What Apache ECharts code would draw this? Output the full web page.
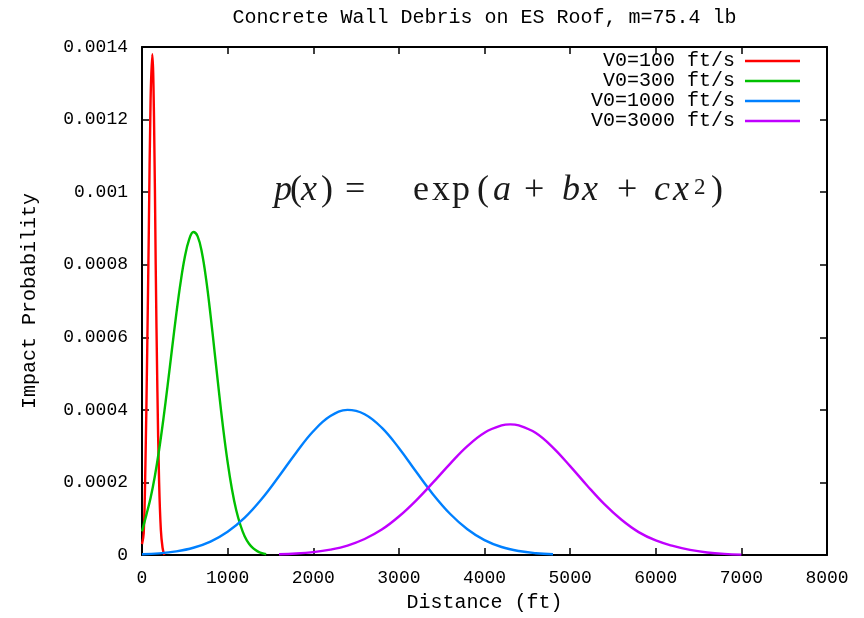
<!DOCTYPE html>
<html>
<head>
<meta charset="utf-8">
<script src="https://cdn.jsdelivr.net/npm/echarts@6/dist/echarts.min.js"></script>
<style>
html,body{margin:0;padding:0;background:#fff;}
#chart{width:864px;height:618px;}
</style>
</head>
<body>
<div id="chart"></div>
<script>
// ---- data ----
const seriesNames = ['V0=100 ft/s', 'V0=300 ft/s', 'V0=1000 ft/s', 'V0=3000 ft/s'];
const seriesColors = ['#ff0000', '#00c000', '#0080ff', '#c000ff'];

const redX = [0, 20, 40, 60, 80, 100, 120, 140, 160, 180, 200, 220, 240, 260];
const redY = [0.00003, 0.00006, 0.00025, 0.00055, 0.0009, 0.00125, 0.00138, 0.00121, 0.0008, 0.00045, 0.0002, 0.00007, 0.00002, 0];

const greenX = [0, 50, 100, 150, 200, 250, 300, 350, 400, 450, 500, 550, 600, 650, 700, 750, 800, 850, 900, 950, 1000, 1050, 1100, 1150, 1200, 1250, 1300, 1350, 1400, 1450];
const greenY = [0.000065, 0.00011, 0.000157, 0.000217, 0.00029, 0.000375, 0.000469, 0.000567, 0.000663, 0.00075, 0.000821, 0.000869, 0.00089, 0.000878, 0.000833, 0.000758, 0.000662, 0.000555, 0.000447, 0.000345, 0.000256, 0.000182, 0.000124, 0.000082, 0.000051, 0.000031, 0.000018, 0.00001, 0.000005, 0.000002];

const blueX = [0, 200, 400, 600, 800, 1000, 1200, 1400, 1600, 1800, 2000, 2200, 2400, 2600, 2800, 3000, 3200, 3400, 3600, 3800, 4000, 4200, 4400, 4600, 4800];
const blueY = [0.000002, 0.0000045, 0.00001, 0.00002, 0.000037, 0.000064, 0.000103, 0.000155, 0.000217, 0.000282, 0.000341, 0.000383, 0.0004, 0.000388, 0.000351, 0.000295, 0.00023, 0.000167, 0.000113, 0.000071, 0.000041, 0.000022, 0.000011, 0.000005, 0.000002];

const purpleX = [1600, 1800, 2000, 2200, 2400, 2600, 2800, 3000, 3200, 3400, 3600, 3800, 4000, 4200, 4300, 4400, 4600, 4800, 5000, 5200, 5400, 5600, 5800, 6000, 6200, 6400, 6600, 6800, 7000];
const purpleY = [0.000002, 0.000004, 0.000008, 0.000015, 0.000026, 0.000044, 0.00007, 0.000106, 0.00015, 0.0002, 0.000252, 0.0003, 0.000337, 0.000357, 0.00036, 0.000357, 0.000336, 0.000296, 0.000245, 0.000191, 0.00014, 0.000097, 0.000063, 0.00004, 0.000025, 0.000014, 0.000007, 0.000003, 0.000001];

const xTickLabels = ['0', '1000', '2000', '3000', '4000', '5000', '6000', '7000', '8000'];
const yTickLabels = ['0', '0.0002', '0.0004', '0.0006', '0.0008', '0.001', '0.0012', '0.0014'];

const titleText = 'Concrete Wall Debris on ES Roof, m=75.4 lb';
const xName = 'Distance (ft)';
const yName = 'Impact Probability';

// ---- build ----
const zip = (xs, ys) => xs.map((x, i) => [x, ys[i]]);
const allData = [zip(redX, redY), zip(greenX, greenY), zip(blueX, blueY), zip(purpleX, purpleY)];

const MONO = '"Liberation Mono", "DejaVu Sans Mono", monospace';
const SERIF = '"Liberation Serif", "DejaVu Serif", serif';

const axisCommon = {
  type: 'value',
  axisLine: { show: true, onZero: false, lineStyle: { color: '#000', width: 2 } },
  axisTick: { show: true, inside: true, length: 7, lineStyle: { color: '#000', width: 1.5 } },
  splitLine: { show: false }
};

const chart = echarts.init(document.getElementById('chart'), null, { renderer: 'canvas' });

// formula annotation glyphs: [text, left, italic]
const f = [
  ['p', 274, true], ['(', 290, false], ['x', 301, true], [')', 321, false],
  ['=', 345, false],
  ['e', 413, false], ['x', 432, false], ['p', 452, false], ['(', 477, false],
  ['a', 493, true], ['+', 524, false],
  ['b', 562, true], ['x', 582, true], ['+', 617, false],
  ['c', 654, true], ['x', 673, true], [')', 711, false]
];
const graphics = f.map(([t, x, it]) => ({
  type: 'text', left: x, top: 173,
  style: { text: t, fontFamily: SERIF, fontSize: 36, fontStyle: it ? 'italic' : 'normal', fill: '#1a1a1a' }
}));
graphics.push({
  type: 'text', left: 694, top: 176,
  style: { text: '2', fontFamily: SERIF, fontSize: 23, fill: '#1a1a1a' }
});

chart.setOption({
  animation: false,
  backgroundColor: '#fff',
  title: {
    text: titleText, left: 479.5, top: 3, textAlign: 'center',
    textStyle: { fontFamily: MONO, fontSize: 20, fontWeight: 'normal', color: '#000' }
  },
  legend: {
    orient: 'vertical', right: 59, top: 46, align: 'right',
    itemWidth: 55, itemHeight: 2.5, itemGap: 0, icon: 'rect',
    textStyle: { fontFamily: MONO, fontSize: 20, color: '#000', lineHeight: 20, padding: [0, 5, 0, 0] },
    data: seriesNames
  },
  grid: { left: 142, right: 37, top: 47, bottom: 60, containLabel: false },
  xAxis: [
    Object.assign({}, axisCommon, {
      position: 'bottom', min: 0, max: 8000, interval: 1000,
      name: xName, nameLocation: 'middle', nameGap: 38,
      nameTextStyle: { fontFamily: MONO, fontSize: 20, color: '#000' },
      axisLabel: { show: true, margin: 14, fontFamily: MONO, fontSize: 18, color: '#000',
        formatter: v => xTickLabels[Math.round(v / 1000)] }
    }),
    Object.assign({}, axisCommon, {
      position: 'top', min: 0, max: 8000, interval: 1000, axisLabel: { show: false }
    })
  ],
  yAxis: [
    Object.assign({}, axisCommon, {
      position: 'left', min: 0, max: 0.0014, interval: 0.0002,
      name: yName, nameLocation: 'middle', nameGap: 102,
      nameTextStyle: { fontFamily: MONO, fontSize: 20, color: '#000' },
      axisLabel: { show: true, margin: 14, fontFamily: MONO, fontSize: 18, color: '#000',
        formatter: v => yTickLabels[Math.round(v / 0.0002)] }
    }),
    Object.assign({}, axisCommon, {
      position: 'right', min: 0, max: 0.0014, interval: 0.0002, axisLabel: { show: false }
    })
  ],
  series: allData.map((d, i) => ({
    name: seriesNames[i], type: 'line', data: d,
    xAxisIndex: 0, yAxisIndex: 0,
    showSymbol: false, symbol: 'none', smooth: 0.4,
    color: seriesColors[i],
    lineStyle: { color: seriesColors[i], width: 2.4 },
    itemStyle: { color: seriesColors[i] },
    clip: true
  })),
  graphic: graphics
});
</script>
</body>
</html>
